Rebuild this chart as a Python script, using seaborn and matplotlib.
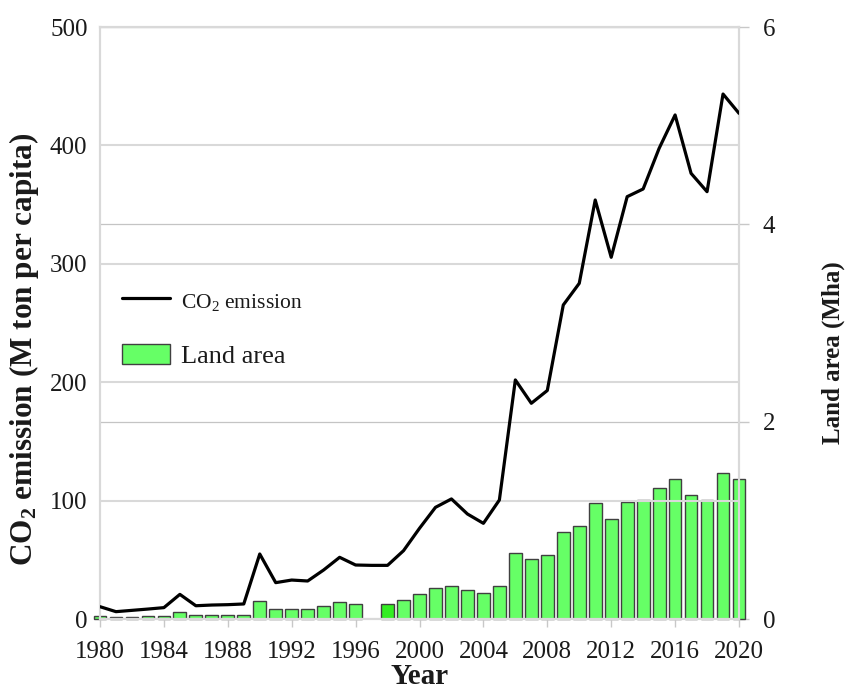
import numpy as np
import pandas as pd
import matplotlib
matplotlib.use("Agg")
import matplotlib.pyplot as plt
from matplotlib.lines import Line2D
from matplotlib.patches import Patch
import seaborn as sns

# ---- data -------------------------------------------------------------
years = list(range(1980, 2021))
co2_emission = [10.4, 6.2, 7.3, 8.4, 9.6, 20.8, 11.2, 11.8, 12.1, 12.7,
                54.9, 30.7, 32.9, 32.1, 41.4, 52.1, 45.6, 45.3, 45.3, 57.7,
                76.6, 94.3, 101.4, 88.7, 80.8, 100.5, 201.9, 182.2, 193.0, 265.2,
                283.5, 353.9, 305.5, 356.7, 363.2, 397.5, 425.7, 376.4, 360.9, 443.4,
                427.1]
land_area = [0.03, 0.024, 0.024, 0.026, 0.028, 0.068, 0.04, 0.04, 0.04, 0.04,
             0.18, 0.098, 0.10, 0.10, 0.13, 0.17, 0.152, np.nan, 0.152, 0.19,
             0.257, 0.314, 0.338, 0.294, 0.267, 0.338, 0.669, 0.611, 0.649, 0.885,
             0.943, 1.18, 1.017, 1.186, 1.206, 1.324, 1.416, 1.254, 1.206, 1.48,
             1.42]
highlight_year = 1998
x_ticks = list(range(1980, 2021, 4))
left_ticks = [0, 100, 200, 300, 400, 500]
right_ticks = [0, 2, 4, 6]

df = pd.DataFrame({"Year": years, "CO2": co2_emission, "Land": land_area})
bars_df = df.dropna(subset=["Land"])

# ---- style ------------------------------------------------------------
sns.set_theme(style="white")
plt.rcParams["font.family"] = ["Liberation Serif", "DejaVu Serif"]
plt.rcParams["mathtext.fontset"] = "custom"
plt.rcParams["mathtext.rm"] = "Liberation Serif"
plt.rcParams["mathtext.bf"] = "Liberation Serif:bold"
plt.rcParams["mathtext.it"] = "Liberation Serif:italic"

BAR_FACE = "#66ff66"
BAR_HIGHLIGHT = "#33ee22"
BAR_EDGE = "#404040"
GRID_LEFT = "#d9d9d9"
GRID_RIGHT = "#c4c4c4"
TEXT = "#1a1a1a"

fig = plt.figure(figsize=(8.48, 6.92), dpi=100)
ax = fig.add_axes([100 / 848, 1 - 619 / 692, 639 / 848, 592 / 692])
ax2 = ax.twinx()

# ---- land area bars (right axis) --------------------------------------
sns.barplot(data=bars_df, x="Year", y="Land", native_scale=True, width=0.8,
            color=BAR_FACE, edgecolor=BAR_EDGE, linewidth=1.0, saturation=1,
            ax=ax2, zorder=2)
for p in ax2.patches:
    p.set_clip_on(False)
    if abs(p.get_x() + p.get_width() / 2 - highlight_year) < 0.3:
        p.set_facecolor(BAR_HIGHLIGHT)

# ---- CO2 emission line (left axis) ------------------------------------
sns.lineplot(data=df, x="Year", y="CO2", color="black", linewidth=2.3,
             ax=ax, zorder=5)

# put the line axis on top so the line and its grid sit above the bars
ax.set_zorder(ax2.get_zorder() + 1)
ax.patch.set_visible(False)

# ---- axes -------------------------------------------------------------
ax.set_xlim(1980, 2020)
ax.set_ylim(0, 500)
ax2.set_ylim(0, 6)

ax.set_xticks(x_ticks)
ax.set_xticklabels([str(t) for t in x_ticks])
ax.set_yticks(left_ticks)
ax2.set_yticks(right_ticks)

ax.grid(axis="y", color=GRID_LEFT, linewidth=1.5)
ax.grid(axis="x", visible=False)
ax2.grid(axis="y", color=GRID_RIGHT, linewidth=0.9)
ax2.grid(axis="x", visible=False)

for a in (ax, ax2):
    for s in a.spines.values():
        s.set_color(GRID_LEFT)
        s.set_linewidth(1.5)

ax.tick_params(axis="x", direction="out", length=6, width=1.0, color="#c8c8c8",
               labelsize=18, labelcolor=TEXT, pad=10, bottom=True)
ax.tick_params(axis="y", length=0, labelsize=18, labelcolor=TEXT, pad=9)
ax2.tick_params(axis="y", direction="out", length=7, width=1.0, color="#c8c8c8",
                labelsize=18, labelcolor=TEXT, pad=10, right=True)

ax.set_xlabel("Year", fontsize=21, fontweight="bold", color=TEXT, labelpad=0)
ax.set_ylabel(r"$\mathbf{CO_2}$ emission (M ton per capita)", fontsize=22.5,
              fontweight="bold", color=TEXT)
ax.yaxis.set_label_coords(-0.092, 0.455)
ax2.set_ylabel("Land area (Mha)", fontsize=18, fontweight="bold", color=TEXT)
ax2.yaxis.set_label_coords(1.129, 0.45)

# ---- legend -----------------------------------------------------------
handles = [Line2D([0], [0], color="black", linewidth=2.3),
           Patch(facecolor=BAR_FACE, edgecolor=BAR_EDGE, linewidth=1.0)]
leg = ax.legend(handles, [r"CO$_2$ emission", "Land area"], loc="upper left",
                bbox_to_anchor=(-0.002, 0.598), frameon=False, fontsize=19,
                handlelength=1.8, handleheight=0.75, labelspacing=1.2,
                handletextpad=0.4)
leg.get_texts()[0].set_fontsize(15.5)
for t in leg.get_texts():
    t.set_color(TEXT)

fig.savefig("out.png", dpi=100)
